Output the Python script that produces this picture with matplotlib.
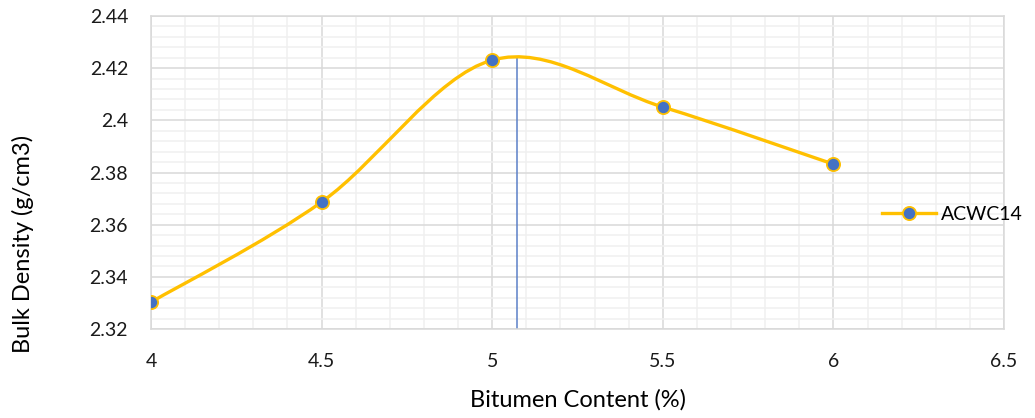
import numpy as np
import matplotlib
matplotlib.use("Agg")
import matplotlib.pyplot as plt
from matplotlib.path import Path
from matplotlib.patches import PathPatch
from matplotlib.ticker import MultipleLocator

# data
bitumen = [4.0, 4.5, 5.0, 5.5, 6.0]
density = [2.3303, 2.3687, 2.4231, 2.4051, 2.3832]
series_name = "ACWC14"
opt_bitumen = 5.074     # vertical marker at the optimum
opt_density = 2.4242
x_ticks = [4, 4.5, 5, 5.5, 6, 6.5]
x_labels = ["4", "4.5", "5", "5.5", "6", "6.5"]
y_ticks = [2.32, 2.34, 2.36, 2.38, 2.4, 2.42, 2.44]
y_labels = ["2.32", "2.34", "2.36", "2.38", "2.4", "2.42", "2.44"]

plt.rcParams['font.family'] = ['Lato', 'DejaVu Sans']

fig = plt.figure(figsize=(10.35, 4.18), dpi=100)
ax = fig.add_axes([0.1459, 0.2129, 0.8242, 0.7488])

gold = "#ffc000"
blue = "#4472c4"


# Excel style smoothed line: cubic bezier between points
def smooth_path(xs, ys):
    pts = np.column_stack([xs, ys])
    n = len(pts)
    verts = [pts[0]]
    codes = [Path.MOVETO]
    for i in range(n - 1):
        p0 = pts[max(i - 1, 0)]
        p1 = pts[i]
        p2 = pts[i + 1]
        p3 = pts[min(i + 2, n - 1)]
        c1 = p1 + (p2 - p0) / 6.0
        c2 = p2 - (p3 - p1) / 6.0
        verts += [c1, c2, p2]
        codes += [Path.CURVE4] * 3
    return Path(verts, codes)


curve = PathPatch(smooth_path(bitumen, density), facecolor="none",
                  edgecolor=gold, lw=2.4, capstyle="round", zorder=3)
ax.add_patch(curve)
ax.plot(bitumen, density, ls="none", marker="o", ms=9.5,
        mfc=blue, mec=gold, mew=1.3, zorder=4)

# optimum line
ax.plot([opt_bitumen, opt_bitumen], [2.32, opt_density], color="#5b80c8",
        lw=1.1, zorder=2)

# legend entry
ax.plot([], [], color=gold, lw=2.4, marker="o", ms=9.5, mfc=blue,
        mec=gold, mew=1.3, label=series_name)
leg = ax.legend(loc="center left", bbox_to_anchor=(882.0 / 1035, 1 - 214.0 / 418),
                bbox_transform=fig.transFigure, frameon=False, borderpad=0,
                borderaxespad=0, fontsize=14, handlelength=2.8, handletextpad=0.25)

ax.set_xlim(4, 6.5)
ax.set_ylim(2.32, 2.44)
ax.xaxis.set_minor_locator(MultipleLocator(0.1))
ax.yaxis.set_minor_locator(MultipleLocator(0.004))
ax.set_xticks(x_ticks, x_labels)
ax.set_yticks(y_ticks, y_labels)

ax.grid(which="major", color="#d9d9d9", lw=1.1)
ax.grid(which="minor", color="#f0f0f0", lw=1.1)
ax.set_axisbelow(True)
for s in ax.spines.values():
    s.set_color("#d9d9d9")
    s.set_linewidth(1.1)
ax.tick_params(which="both", length=0)
ax.tick_params(axis="x", labelsize=14, pad=17, colors="#1a1a1a")
ax.tick_params(axis="y", labelsize=14, pad=16.5, colors="#1a1a1a")

ax.set_xlabel("Bitumen Content (%)", fontsize=17, va="center")
ax.xaxis.set_label_coords(0.5, -0.227)
ax.set_ylabel("Bulk Density (g/cm3)", fontsize=17, va="center")
ax.yaxis.set_label_coords(-0.150, 0.273)

fig.savefig("out.png", dpi=100)
